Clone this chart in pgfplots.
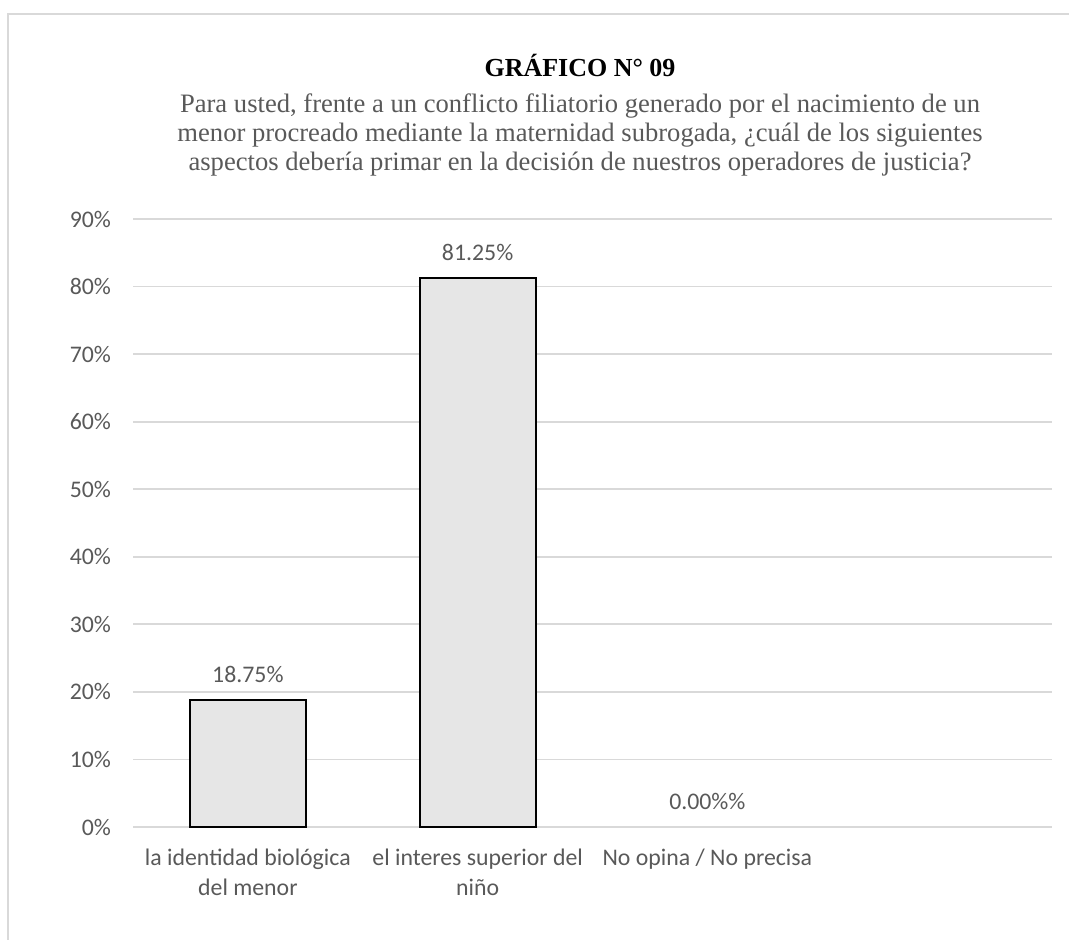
\documentclass[border=0pt]{standalone}
\usepackage{fontspec}
\setmainfont{Carlito}
\newfontfamily\serif{Liberation Serif}
\usepackage{pgfplots}
\pgfplotsset{compat=1.18}
\definecolor{txt}{HTML}{595959}
\definecolor{gridc}{HTML}{D9D9D9}
\definecolor{barc}{HTML}{E6E6E6}
\begin{document}
\begin{tikzpicture}
% 1 px of the reference = 0.5pt
\useasboundingbox (0,0) rectangle (534.5pt,469.5pt);
\draw[gridc, line width=1pt] (4pt,-10pt) -- (4pt,462.5pt) -- (545pt,462.5pt);
\node[anchor=base, font=\serif\bfseries\fontsize{13}{15}\selectfont] at (290pt,431pt) {GRÁFICO N° 09};
% base of a node of several lines is the baseline of its last line
\node[anchor=base, txt, align=center, font=\serif\fontsize{13.3}{14.5}\selectfont] at (290pt,384pt)
  {Para usted, frente a un conflicto filiatorio generado por el nacimiento de un\\
   menor procreado mediante la maternidad subrogada, ¿cuál de los siguientes\\
   aspectos debería primar en la decisión de nuestros operadores de justicia?};
\begin{axis}[
    at={(66.5pt,56pt)}, anchor=south west,
    scale only axis,
    width=459.5pt, height=304pt,
    ybar, bar width=58pt, bar shift=0pt,
    xmin=-0.5, xmax=3.5,
    ymin=0, ymax=90,
    xtick={0,1,2},
    xticklabels={{la identidad biológica\\del menor},{el interes superior del\\niño},{\vphantom{l}No opina / No precisa}},
    ytick={0,10,20,30,40,50,60,70,80,90},
    yticklabels={0\%,10\%,20\%,30\%,40\%,50\%,60\%,70\%,80\%,90\%},
    axis line style={draw=none},
    major tick length=0pt,
    ymajorgrids,
    grid style={gridc, line width=0.9pt},
    tick label style={txt, font=\fontsize{11.9}{15}\selectfont},
    yticklabel style={xshift=-7.5pt},
    xticklabel style={align=center, anchor=north, inner sep=0pt, yshift=-10.6pt},
    nodes near coords,
    point meta=explicit symbolic,
    every node near coord/.append style={txt, font=\fontsize{11.9}{14}\selectfont, anchor=base, yshift=9pt},
]
\addplot[draw=black, line width=1pt, fill=barc] coordinates {
    (0,18.75) [18.75\%]
    (1,81.25) [81.25\%]
};
% the third answer has no bar, only its label
\addplot[draw=none, fill=none] coordinates {
    (2,0) [0.00\%\%]
};
\end{axis}
\end{tikzpicture}
\end{document}
